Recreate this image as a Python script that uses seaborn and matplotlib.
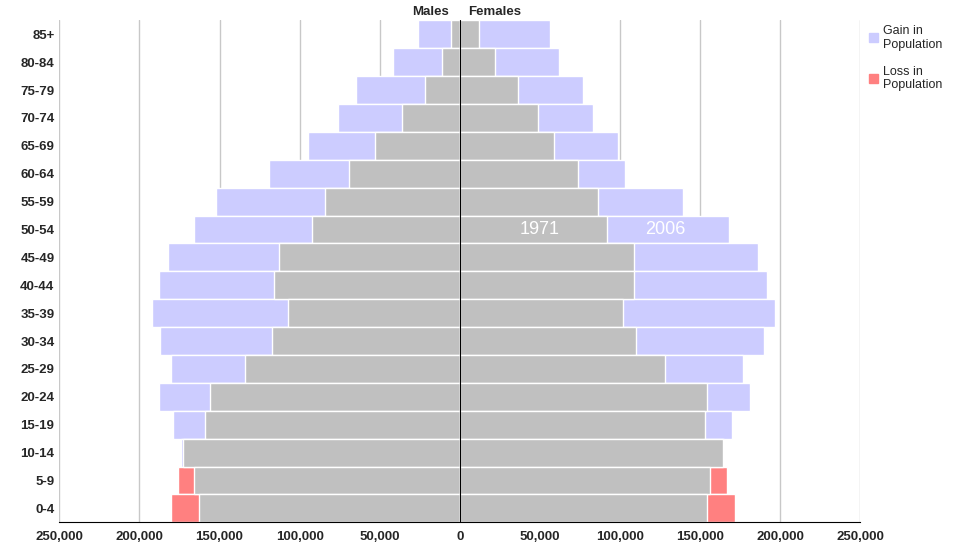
import numpy as np
import pandas as pd
import seaborn as sns
import matplotlib.pyplot as plt
from matplotlib.patches import Patch

ages = ['85+', '80-84', '75-79', '70-74', '65-69', '60-64', '55-59', '50-54', '45-49',
        '40-44', '35-39', '30-34', '25-29', '20-24', '15-19', '10-14', '5-9', '0-4']
males_1971 = [5.6, 11, 22, 36, 53, 69, 84, 92, 113, 116, 107, 117, 134, 156, 159, 173, 176, 180]
males_2006 = [26, 42, 65, 76, 95, 119, 152, 166, 182, 188, 192, 187, 180, 188, 179, 174, 166, 163]
females_1971 = [12, 22, 36, 49, 59, 74, 86, 92, 109, 109, 102, 110, 128, 154, 153, 165, 167, 172]
females_2006 = [56, 62, 77, 83, 99, 103, 139, 168, 186, 192, 197, 190, 177, 181, 170, 164, 156, 154]

GREY = '#c0c0c0'
GAIN = '#ccccff'
LOSS = '#ff8080'

sns.set_style('white')
plt.rcParams['font.family'] = ['Liberation Sans', 'DejaVu Sans']
fig, ax = plt.subplots(figsize=(9.57, 5.51), dpi=100)
fig.subplots_adjust(left=0.062, right=0.899, top=0.963, bottom=0.052)

for sign, y71, y06 in [(-1, males_1971, males_2006), (1, females_1971, females_2006)]:
    a71 = np.array(y71) * 1000
    a06 = np.array(y06) * 1000
    df = pd.DataFrame({'age': ages,
                       'gain': np.where(a06 >= a71, a06, np.nan) * sign,
                       'loss': np.where(a06 < a71, a71, np.nan) * sign,
                       'base': np.minimum(a71, a06) * sign})
    for col, c in [('gain', GAIN), ('loss', LOSS), ('base', GREY)]:
        sns.barplot(data=df, x=col, y='age', order=ages, orient='h', color=c, saturation=1,
                    width=1.0, edgecolor='white', linewidth=1, ax=ax, zorder=2)

ax.set_xlim(-250000, 250000)
ax.set_xticks(np.arange(-250000, 250001, 50000))
ax.set_xticklabels([f'{abs(v):,}' for v in range(-250000, 250001, 50000)],
                   fontsize=9.5, fontweight='bold')
for lbl in ax.get_yticklabels():
    lbl.set_fontweight('bold')
ax.tick_params(axis='y', labelsize=9.5, length=0)
ax.tick_params(axis='x', length=3, color='black')
ax.set_xlabel('')
ax.set_ylabel('')
ax.xaxis.grid(True, color='#c8c8c8', linewidth=1, zorder=0)
ax.set_axisbelow(True)
for s in ['top', 'right', 'left']:
    ax.spines[s].set_visible(False)
ax.axvline(0, color='black', linewidth=0.8, zorder=3)
ax.spines['bottom'].set_color('black')

ax.text(-7000, -0.6, 'Males', ha='right', va='bottom', fontsize=9.5, fontweight='bold')
ax.text(5000, -0.6, 'Females', ha='left', va='bottom', fontsize=9.5, fontweight='bold')
ax.text(50000, 7, '1971', color='white', fontsize=13, ha='center', va='center', zorder=5)
ax.text(128000, 7, '2006', color='white', fontsize=13, ha='center', va='center', zorder=5)

handles = [Patch(color=GAIN, label='Gain in\nPopulation'),
           Patch(color=LOSS, label='Loss in\nPopulation')]
fig.legend(handles=handles, loc='upper left', bbox_to_anchor=(0.908, 0.955), frameon=False,
           fontsize=9, handlelength=0.7, handleheight=0.7, labelspacing=1.2,
           handletextpad=0.4, borderaxespad=0, borderpad=0)

plt.savefig('out.png', dpi=100)
